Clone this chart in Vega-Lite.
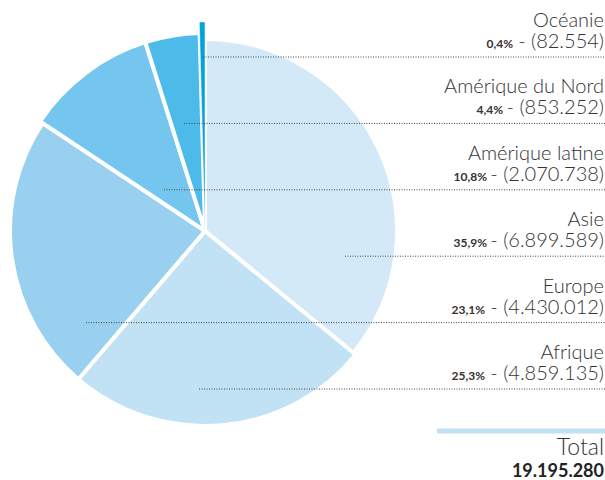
{
  "$schema": "https://vega.github.io/schema/vega-lite/v6.json",
  "width": 605,
  "height": 480,
  "autosize": {"type": "fit", "contains": "padding"},
  "padding": 0,
  "background": "white",
  "config": {"view": {"stroke": null}, "text": {"font": "Lato"}},
  "data": {
    "values": [
      {"region": "Asie", "value": 6899589, "pct": 35.9},
      {"region": "Afrique", "value": 4859135, "pct": 25.3},
      {"region": "Europe", "value": 4430012, "pct": 23.1},
      {"region": "Amérique latine", "value": 2070738, "pct": 10.8},
      {"region": "Amérique du Nord", "value": 853252, "pct": 4.4},
      {"region": "Océanie", "value": 82554, "pct": 0.4}
    ]
  },
  "transform": [
    {"calculate": "'- (' + replace(format(datum.value, ','), regexp(',', 'g'), '.') + ')'", "as": "value_label"},
    {"calculate": "replace(format(datum.pct, '.1f'), '.', ',') + '%'", "as": "pct_label"}
  ],
  "layer": [
    {
      "mark": {"type": "arc", "stroke": "white"},
      "encoding": {
        "theta": {"field": "value", "type": "quantitative", "stack": true},
        "order": {"field": "value", "type": "quantitative", "sort": "descending"},
        "color": {
          "field": "region",
          "type": "nominal",
          "scale": {
            "domain": ["Asie", "Afrique", "Europe", "Amérique latine", "Amérique du Nord", "Océanie"],
            "range": ["#d4e9f7", "#c1e1f5", "#99d0ef", "#75c6ee", "#4dbbea", "#00a3dd"]
          },
          "legend": null
        },
        "radius": {"value": {"expr": "datum.region === 'Océanie' ? 209 : (datum.region === 'Amérique du Nord' || datum.region === 'Amérique latine') ? 198 : datum.region === 'Asie' ? 192 : 195"}},
        "strokeWidth": {"condition": {"test": "datum.region === 'Océanie'", "value": 0.5}, "value": 4},
        "x": {"value": 205},
        "y": {"value": 231}
      }
    },
    {
      "encoding": {
        "y": {
          "field": "region",
          "type": "nominal",
          "scale": {
            "type": "point",
            "padding": 0,
            "domain": ["Océanie", "Amérique du Nord", "Amérique latine", "Asie", "Europe", "Afrique"],
            "range": [57, 389]
          },
          "axis": null
        }
      },
      "layer": [
        {
          "mark": {"type": "rule", "color": "#444444", "strokeWidth": 1, "strokeDash": [1, 1.5]},
          "encoding": {
            "x": {"value": {"expr": "datum.region === 'Océanie' ? 203 : datum.region === 'Amérique du Nord' ? 184 : datum.region === 'Amérique latine' ? 164 : datum.region === 'Asie' ? 345 : datum.region === 'Europe' ? 86 : 199"}},
            "x2": {"value": 605}
          }
        },
        {
          "mark": {"type": "text", "align": "right", "baseline": "alphabetic", "dy": -30, "fontSize": 20, "fontWeight": 300, "color": "#333333"},
          "encoding": {"x": {"value": 604}, "text": {"field": "region"}}
        },
        {
          "mark": {"type": "text", "align": "right", "baseline": "alphabetic", "dy": -9, "fontSize": 20, "fontWeight": 300, "color": "#333333"},
          "encoding": {"x": {"value": 604}, "text": {"field": "value_label"}}
        },
        {
          "mark": {"type": "text", "align": "right", "baseline": "alphabetic", "dy": -9, "fontSize": 12, "fontWeight": "bold", "color": "#333333"},
          "encoding": {
            "x": {"value": {"expr": "datum.region === 'Océanie' ? 513 : datum.region === 'Amérique du Nord' ? 503 : datum.region === 'Amérique latine' ? 487 : datum.region === 'Asie' ? 487 : 485"}},
            "text": {"field": "pct_label"}
          }
        }
      ]
    },
    {
      "transform": [{"aggregate": [{"op": "sum", "field": "value", "as": "total"}]}],
      "layer": [
        {
          "mark": {"type": "rule", "color": "#c1e1f5", "strokeWidth": 5},
          "encoding": {"x": {"value": 437}, "x2": {"value": 605}, "y": {"value": 431}}
        },
        {
          "mark": {"type": "text", "align": "right", "baseline": "alphabetic", "fontSize": 23, "fontWeight": 300, "color": "#333333", "text": "Total"},
          "encoding": {"x": {"value": 604}, "y": {"value": 455}}
        },
        {
          "transform": [{"calculate": "replace(format(datum.total, ','), regexp(',', 'g'), '.')", "as": "total_label"}],
          "mark": {"type": "text", "align": "right", "baseline": "alphabetic", "fontSize": 18, "fontWeight": "bold", "color": "#222222"},
          "encoding": {"x": {"value": 604}, "y": {"value": 477}, "text": {"field": "total_label"}}
        }
      ]
    }
  ]
}
